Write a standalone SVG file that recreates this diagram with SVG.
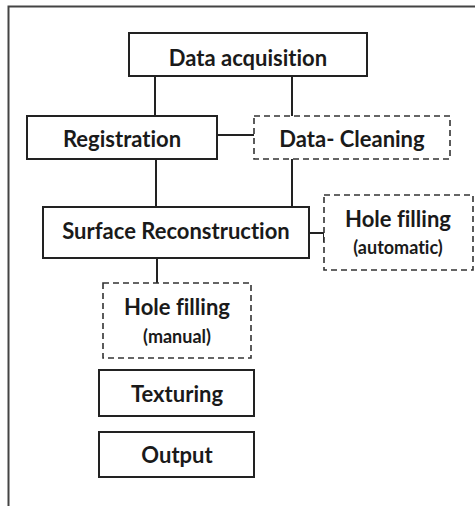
<svg xmlns="http://www.w3.org/2000/svg" width="475" height="506" viewBox="0 0 475 506">
<style>
.box{fill:#fff;stroke:#222;stroke-width:2}
.dash{fill:#fff;stroke:#333;stroke-width:1.6;stroke-dasharray:6,4}
.t{font-family:Lato,"Open Sans",sans-serif;font-weight:bold;font-size:22px;fill:#1a1a1a;text-anchor:middle;font-variant-ligatures:none}
.s{font-family:Lato,"Open Sans",sans-serif;font-weight:bold;font-size:18px;fill:#1a1a1a;text-anchor:middle;font-variant-ligatures:none}
.c{fill:none;stroke:#222;stroke-width:2}
</style>
<rect width="475" height="506" fill="#fff"/>
<path d="M8.5,510 V6.5 H480" fill="none" stroke="#444" stroke-width="2"/>
<g id="connectors">
<line class="c" x1="155" y1="76" x2="155" y2="116"/>
<line class="c" x1="292" y1="76" x2="292" y2="116"/>
<line class="c" x1="217" y1="135" x2="254" y2="135"/>
<line class="c" x1="156" y1="159" x2="156" y2="207"/>
<line class="c" x1="292" y1="159" x2="292" y2="207"/>
<polyline class="c" points="309,233 324,233 324,242"/>
<line class="c" x1="157" y1="258" x2="157" y2="283"/>
</g>
<g id="data-acquisition"><rect class="box" x="129" y="33" width="238" height="43"/><text class="t" x="248" y="66">Data acquisition</text></g>
<g id="registration"><rect class="box" x="27" y="116" width="190" height="43"/><text class="t" x="122" y="147">Registration</text></g>
<g id="data-cleaning"><rect class="dash" x="254" y="116" width="196" height="43"/><text class="t" x="352" y="147">Data- Cleaning</text></g>
<g id="surface-reconstruction"><rect class="box" x="43" y="207" width="266" height="51"/><text class="t" x="176" y="239">Surface Reconstruction</text></g>
<g id="hole-filling-auto"><rect class="dash" x="324" y="195" width="149" height="75"/><text class="t" x="398" y="227">Hole filling</text><text class="s" x="398" y="254">(automatic)</text></g>
<g id="hole-filling-manual"><rect class="dash" x="103" y="283" width="148" height="75"/><text class="t" x="177" y="315">Hole filling</text><text class="s" x="177" y="343">(manual)</text></g>
<g id="texturing"><rect class="box" x="99" y="370" width="155" height="46"/><text class="t" x="177" y="402">Texturing</text></g>
<g id="output"><rect class="box" x="99" y="432" width="155" height="45"/><text class="t" x="177" y="463">Output</text></g>
</svg>
